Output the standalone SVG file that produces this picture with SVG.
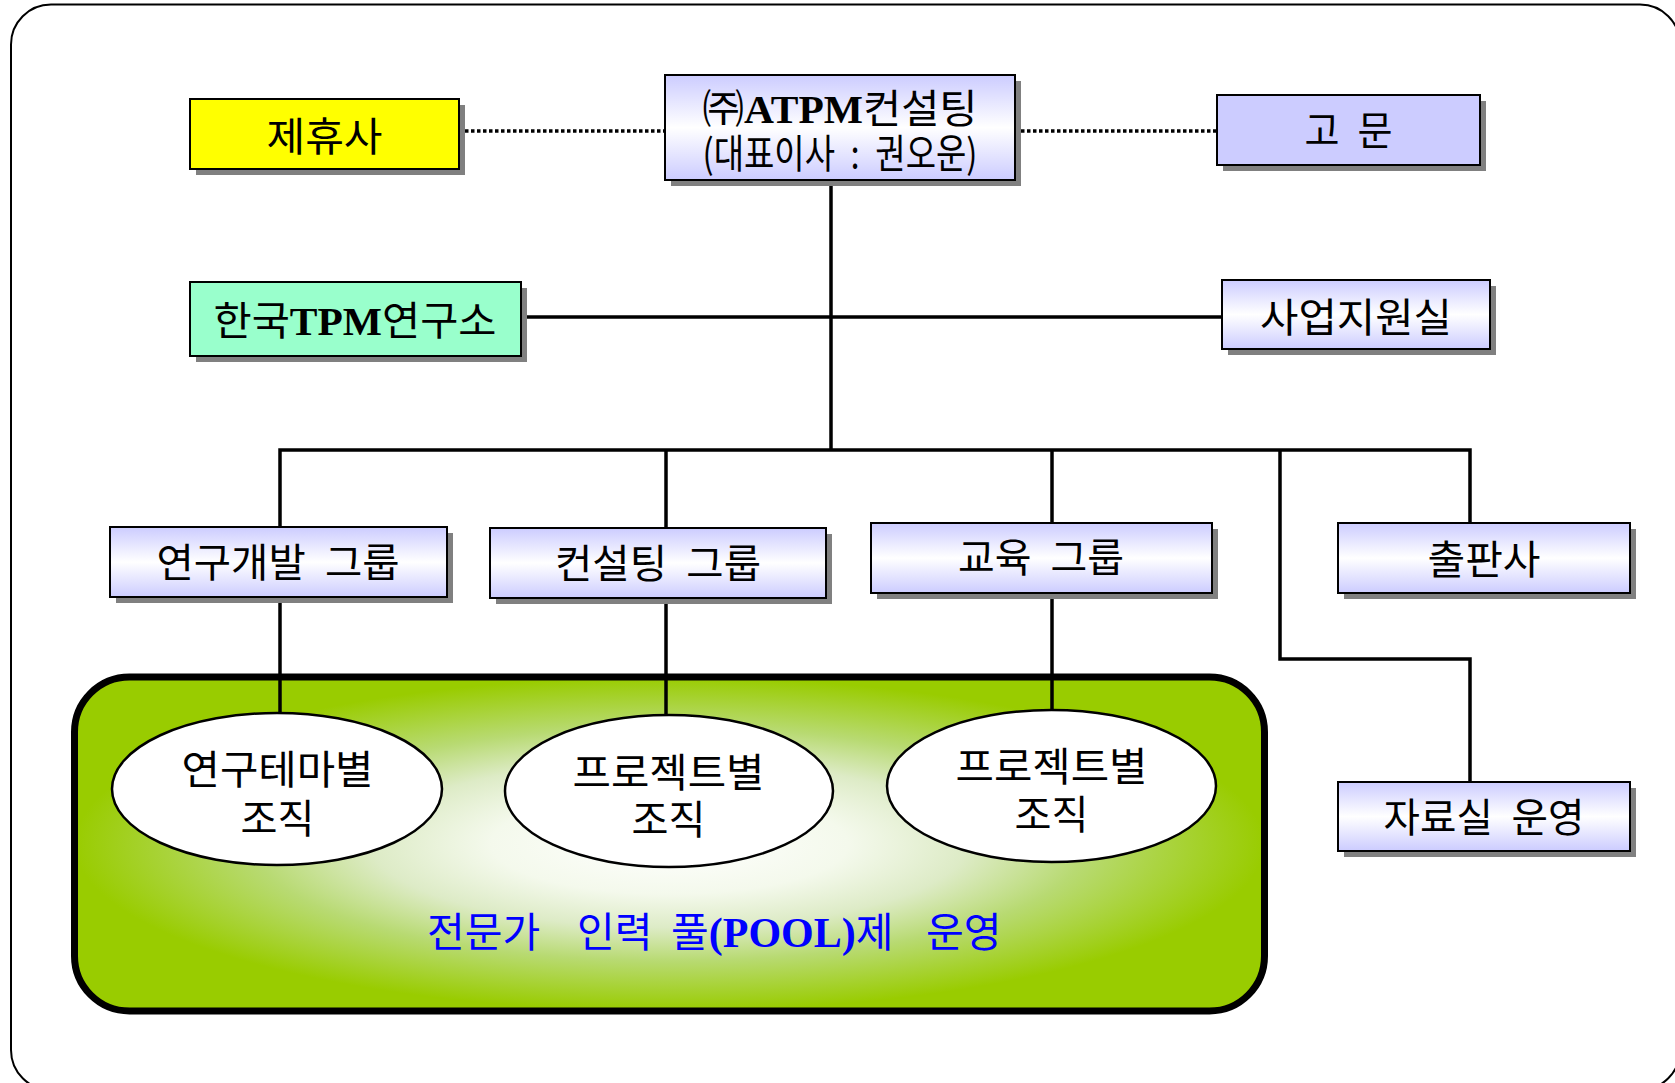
<svg xmlns="http://www.w3.org/2000/svg" width="1675" height="1083" viewBox="0 0 1675 1083">
<defs>
<linearGradient id="lav" x1="0" y1="0" x2="0" y2="1">
<stop offset="0" stop-color="#CCCCFF"/>
<stop offset="0.5" stop-color="#FFFFFF"/>
<stop offset="1" stop-color="#CCCCFF"/>
</linearGradient>
<radialGradient id="pool" cx="0.5" cy="0.5" r="0.5">
<stop offset="0" stop-color="#FFFFFF"/>
<stop offset="0.3" stop-color="#F4F9EC"/>
<stop offset="0.5" stop-color="#DDEBC6"/>
<stop offset="0.7" stop-color="#B8DA72"/>
<stop offset="1" stop-color="#99CC00"/>
</radialGradient>
</defs>
<style>
.box{stroke:#000;stroke-width:2}
.sh{fill:#808080}
.g{fill:url(#lav)}
.t{font-family:"Noto Sans CJK KR","Noto Sans",sans-serif;font-size:40px;fill:#000;text-anchor:middle;word-spacing:10px}
.b{font-family:"Liberation Serif",serif;font-weight:bold}
.ln{fill:none;stroke:#000;stroke-width:3.5}
.dot{fill:none;stroke:#000;stroke-width:3.5;stroke-dasharray:3.5 2.5}
.el{fill:#fff;stroke:#000;stroke-width:2.5}
</style>
<rect x="11" y="4.5" width="1669" height="1085.5" rx="40" fill="#fff" stroke="#000" stroke-width="2"/>

<g id="pool-area">
<rect x="74.5" y="677" width="1190" height="334" rx="55" fill="url(#pool)" stroke="#000" stroke-width="7"/>
<text class="t" style="fill:#0000FF;text-anchor:start;font-size:41px;word-spacing:0" y="947"><tspan x="427">전문가 </tspan><tspan x="577">인력 </tspan><tspan x="671">풀<tspan class="b" font-size="42">(POOL)</tspan>제 </tspan><tspan x="926">운영</tspan></text>
</g>

<g id="connectors">
<line class="dot" x1="459" y1="131" x2="665" y2="131"/>
<line class="dot" x1="1015" y1="131" x2="1217" y2="131"/>
<line class="ln" x1="831" y1="180" x2="831" y2="450"/>
<line class="ln" x1="521" y1="317" x2="1222" y2="317"/>
<polyline class="ln" points="280,527 280,450 1470,450 1470,523"/>
<line class="ln" x1="666" y1="450" x2="666" y2="528"/>
<line class="ln" x1="1052" y1="450" x2="1052" y2="523"/>
<polyline class="ln" points="1280,450 1280,659 1470,659 1470,782"/>
<line class="ln" x1="280" y1="597" x2="280" y2="713"/>
<line class="ln" x1="666" y1="598" x2="666" y2="715"/>
<line class="ln" x1="1052" y1="593" x2="1052" y2="710"/>
</g>

<g id="partner">
<rect class="sh" x="196" y="105" width="269" height="70"/>
<rect class="box" x="190" y="99" width="269" height="70" fill="#FFFF00"/>
<text class="t" x="324.5" y="151" textLength="116" lengthAdjust="spacingAndGlyphs">제휴사</text>
</g>

<g id="atpm">
<rect class="sh" x="671" y="81" width="350" height="105"/>
<rect class="box g" x="665" y="75" width="350" height="105"/>
<text class="t" x="840" y="123" font-size="40" textLength="275" lengthAdjust="spacingAndGlyphs">㈜<tspan class="b">ATPM</tspan>컨설팅</text>
<text class="t" x="840" y="168" font-size="33" textLength="275" lengthAdjust="spacingAndGlyphs">(대표이사 : 권오운)</text>
</g>

<g id="advisor">
<rect class="sh" x="1223" y="101" width="263" height="70"/>
<rect class="box" x="1217" y="95" width="263" height="70" fill="#CCCCFF"/>
<text class="t" x="1348.5" y="145" textLength="88" lengthAdjust="spacingAndGlyphs">고 문</text>
</g>

<g id="institute">
<rect class="sh" x="196" y="288" width="331" height="74"/>
<rect class="box" x="190" y="282" width="331" height="74" fill="#99FFCC"/>
<text class="t" x="355" y="335" font-size="40" textLength="283" lengthAdjust="spacingAndGlyphs">한국<tspan class="b">TPM</tspan>연구소</text>
</g>

<g id="support">
<rect class="sh" x="1228" y="286" width="268" height="69"/>
<rect class="box g" x="1222" y="280" width="268" height="69"/>
<text class="t" x="1356" y="332" textLength="192" lengthAdjust="spacingAndGlyphs">사업지원실</text>
</g>

<g id="rnd">
<rect class="sh" x="116" y="533" width="337" height="70"/>
<rect class="box g" x="110" y="527" width="337" height="70"/>
<text class="t" x="278" y="577" textLength="243" lengthAdjust="spacingAndGlyphs">연구개발 그룹</text>
</g>

<g id="consulting">
<rect class="sh" x="496" y="534" width="336" height="70"/>
<rect class="box g" x="490" y="528" width="336" height="70"/>
<text class="t" x="658" y="578" textLength="206" lengthAdjust="spacingAndGlyphs">컨설팅 그룹</text>
</g>

<g id="education">
<rect class="sh" x="877" y="529" width="341" height="70"/>
<rect class="box g" x="871" y="523" width="341" height="70"/>
<text class="t" x="1041" y="572" textLength="166" lengthAdjust="spacingAndGlyphs">교육 그룹</text>
</g>

<g id="publisher">
<rect class="sh" x="1344" y="529" width="292" height="70"/>
<rect class="box g" x="1338" y="523" width="292" height="70"/>
<text class="t" x="1484" y="574" textLength="113" lengthAdjust="spacingAndGlyphs">출판사</text>
</g>

<g id="library">
<rect class="sh" x="1344" y="788" width="292" height="69"/>
<rect class="box g" x="1338" y="782" width="292" height="69"/>
<text class="t" x="1484" y="832" textLength="201" lengthAdjust="spacingAndGlyphs">자료실 운영</text>
</g>

<g id="theme-org">
<ellipse class="el" cx="277" cy="789" rx="165" ry="76"/>
<text class="t" x="277.5" y="784" textLength="192" lengthAdjust="spacingAndGlyphs">연구테마별</text>
<text class="t" x="277.5" y="833" textLength="74" lengthAdjust="spacingAndGlyphs">조직</text>
</g>

<g id="project-org-1">
<ellipse class="el" cx="669" cy="791" rx="164" ry="76"/>
<text class="t" x="668.5" y="786.5" textLength="192" lengthAdjust="spacingAndGlyphs">프로젝트별</text>
<text class="t" x="668.5" y="833.5" textLength="74" lengthAdjust="spacingAndGlyphs">조직</text>
</g>

<g id="project-org-2">
<ellipse class="el" cx="1051.5" cy="786" rx="164.5" ry="76"/>
<text class="t" x="1051.5" y="781" textLength="192" lengthAdjust="spacingAndGlyphs">프로젝트별</text>
<text class="t" x="1051.5" y="828.5" textLength="74" lengthAdjust="spacingAndGlyphs">조직</text>
</g>
</svg>
